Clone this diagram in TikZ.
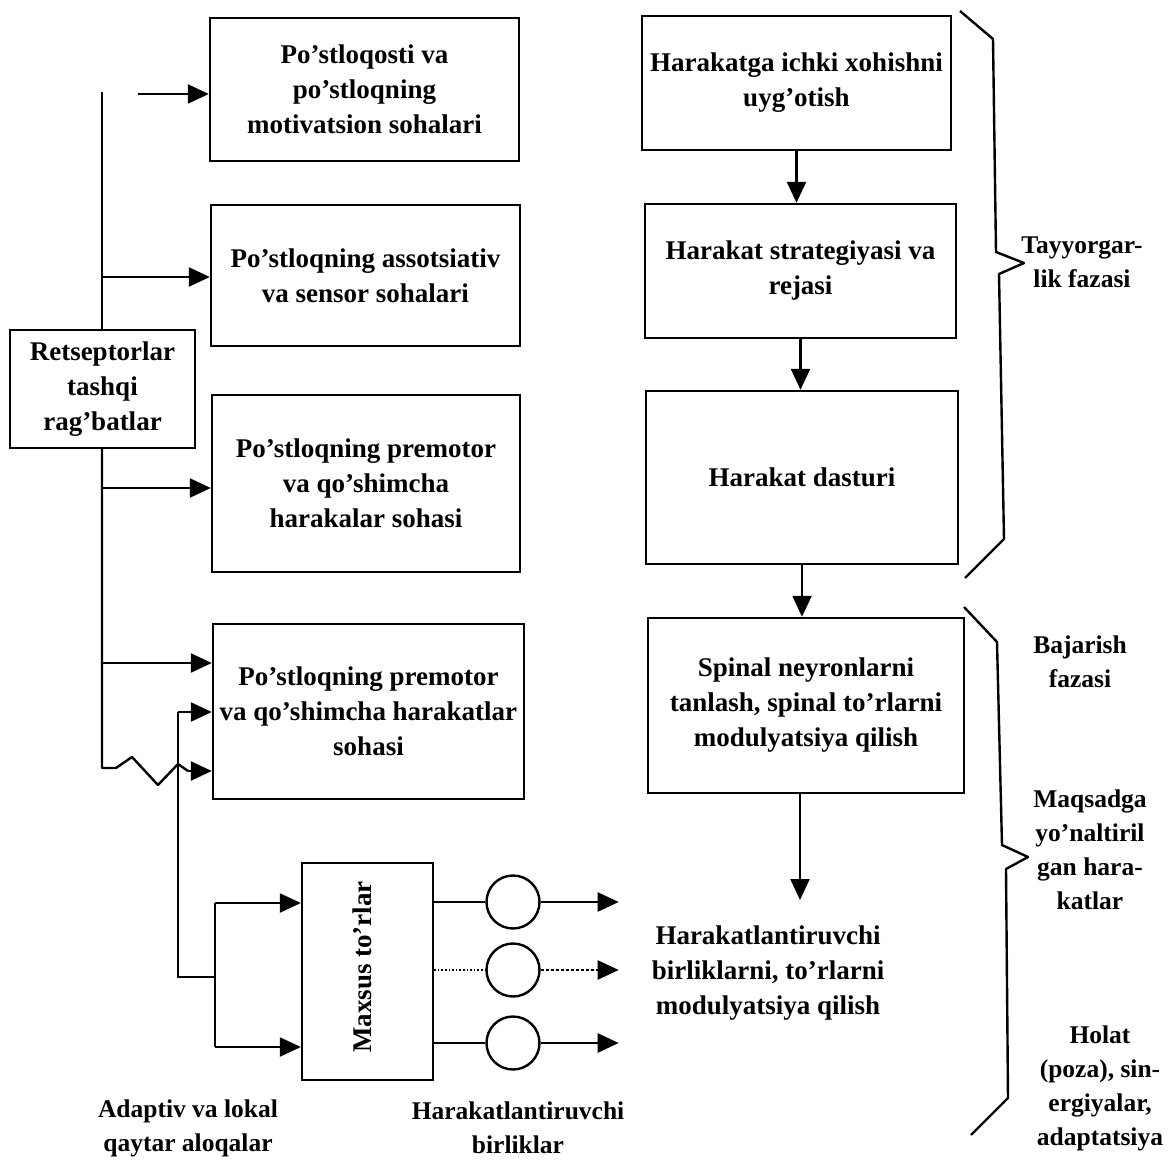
\documentclass[tikz,border=0pt]{standalone}
\usepackage{fontspec}
\setmainfont{Liberation Serif}
\usetikzlibrary{arrows.meta}
\begin{document}
\begin{tikzpicture}[x=1pt,y=-1pt,
  txt/.style={font=\bfseries\fontsize{27}{35}\selectfont, align=center, inner sep=0pt},
  lab/.style={font=\bfseries\fontsize{25.5}{34}\selectfont, align=center, inner sep=0pt},
  bx/.style={txt, draw, line width=2.4pt},
  ln/.style={line width=2.4pt},
  arr/.style={line width=2.4pt, -{Triangle[length=21pt,width=19pt]}},
  thinln/.style={line width=1.6pt},
  brace/.style={line width=2.4pt, line join=round},
  circ/.style={draw, circle, line width=2.4pt, minimum size=53pt, inner sep=0pt}
]
\useasboundingbox (0,0) rectangle (1176,1169);

% left column boxes
\node[bx, minimum width=309pt, minimum height=143pt] (b1) at (364.5,89.5) {Po'stloqosti va\\po'stloqning\\motivatsion sohalari};
\node[bx, minimum width=309pt, minimum height=141pt] (b2) at (365.5,275.5) {Po'stloqning assotsiativ\\va sensor sohalari};
\node[bx, minimum width=308pt, minimum height=177pt] (b3) at (366,483.5) {Po'stloqning premotor\\va qo'shimcha\\harakalar sohasi};
\node[bx, minimum width=311pt, minimum height=175pt] (b4) at (368.5,711.5) {Po'stloqning premotor\\va qo'shimcha harakatlar\\sohasi};
\node[bx, minimum width=185pt, minimum height=118pt] (rec) at (102.5,389) {Retseptorlar\\tashqi\\rag'batlar};
\node[bx, minimum width=131pt, minimum height=217pt] (mx) at (367.5,971.5) {};
\node[txt, rotate=90] (mxt) at (362,967) {Maxsus to'rlar};

\node[circ] (c1) at (513,902) {};
\node[circ] (c2) at (513,970) {};
\node[circ] (c3) at (513,1043) {};

% right column boxes
\node[bx, minimum width=309pt, minimum height=134pt] (r1) at (796.5,83) {Harakatga ichki xohishni\\uyg'otish};
\node[bx, minimum width=311pt, minimum height=134pt] (r2) at (800.5,271) {Harakat strategiyasi va\\rejasi};
\node[bx, minimum width=312pt, minimum height=173pt] (r3) at (802,477.5) {Harakat dasturi};
\node[bx, minimum width=316pt, minimum height=175pt] (r4) at (806,705.5) {Spinal neyronlarni\\tanlash, spinal to'rlarni\\modulyatsiya qilish};
\node[txt] (out) at (768,973) {Harakatlantiruvchi\\birliklarni, to'rlarni\\modulyatsiya qilish};

% bottom labels
\node[lab] (lab1) at (188,1128) {Adaptiv va lokal\\qaytar aloqalar};
\node[lab] (lab2) at (518,1128) {Harakatlantiruvchi\\birliklar};

% right labels
\node[lab] (ph1) at (1082,262) {Tayyorgar-\\lik fazasi};
\node[lab] (ph2) at (1080,662) {Bajarish\\fazasi};
\node[lab] (ph3) at (1090,850) {Maqsadga\\yo'naltiril\\gan hara-\\katlar};
\node[lab] (ph4) at (1100,1088) {Holat\\(poza), sin-\\ergiyalar,\\adaptatsiya};

% right column arrows
\draw[arr] (r1.south) -- (r1.south |- r2.north);
\draw[arr] (r2.south) -- (r2.south |- r3.north);
\draw[arr] (r3.south) -- (r3.south |- r4.north);
\coordinate (otip) at (800,900);
\draw[arr] (r4.south -| otip) -- (otip);

% left trunk
\coordinate (vtop) at (102,92);
\coordinate (t1) at (138,94);
\coordinate (j2) at (102,277);
\coordinate (j3) at (102,488);
\coordinate (j4) at (102,663);
\coordinate (vbot) at (102,768);
\draw[ln] (vtop) -- (vtop |- rec.north);
\draw[arr] (t1) -- (t1 -| b1.west);
\draw[arr] (j2) -- (j2 -| b2.west);
\draw[arr] (j3) -- (j3 -| b3.west);
\draw[arr] (j4) -- (j4 -| b4.west);
\coordinate (w5) at (188,771);
\draw[ln, line join=round] (vbot |- rec.south) -- (vbot) -- (116,768) -- (132,757) -- (158,785) -- (178,764) -- (w5);
\draw[arr] (w5) -- (w5 -| b4.west);

% feedback
\coordinate (fb) at (178,712);
\coordinate (fbA) at (178,977);
\coordinate (fbB) at (215,977);
\coordinate (ja) at (215,903);
\coordinate (jb) at (215,1047);
\draw[arr] (fb) -- (fb -| b4.west);
\draw[ln] (fb) -- (fbA) -- (fbB);
\draw[ln] (ja) -- (jb);
\draw[arr] (ja) -- (ja -| mx.west);
\draw[arr] (jb) -- (jb -| mx.west);

% outputs of special networks
\draw[thinln] (c1 -| mx.east) -- (c1.west);
\draw[thinln, dotted] (c2 -| mx.east) -- (c2.west);
\draw[ln] (c3 -| mx.east) -- (c3.west);
\draw[arr] (c1.east) -- ++(78,0);
\draw[arr, densely dashed] (c2.east) -- ++(78,0);
\draw[arr] (c3.east) -- ++(78,0);

% braces
\draw[brace] (960,11) -- (993,39) -- (996,252) -- (1024,263) -- (999,274) -- (1004,539) -- (965,578);
\draw[brace] (964,607) -- (997,642) -- (1002,845) -- (1028,857) -- (1006,869) -- (1008,1098) -- (971,1135);
\end{tikzpicture}
\end{document}
